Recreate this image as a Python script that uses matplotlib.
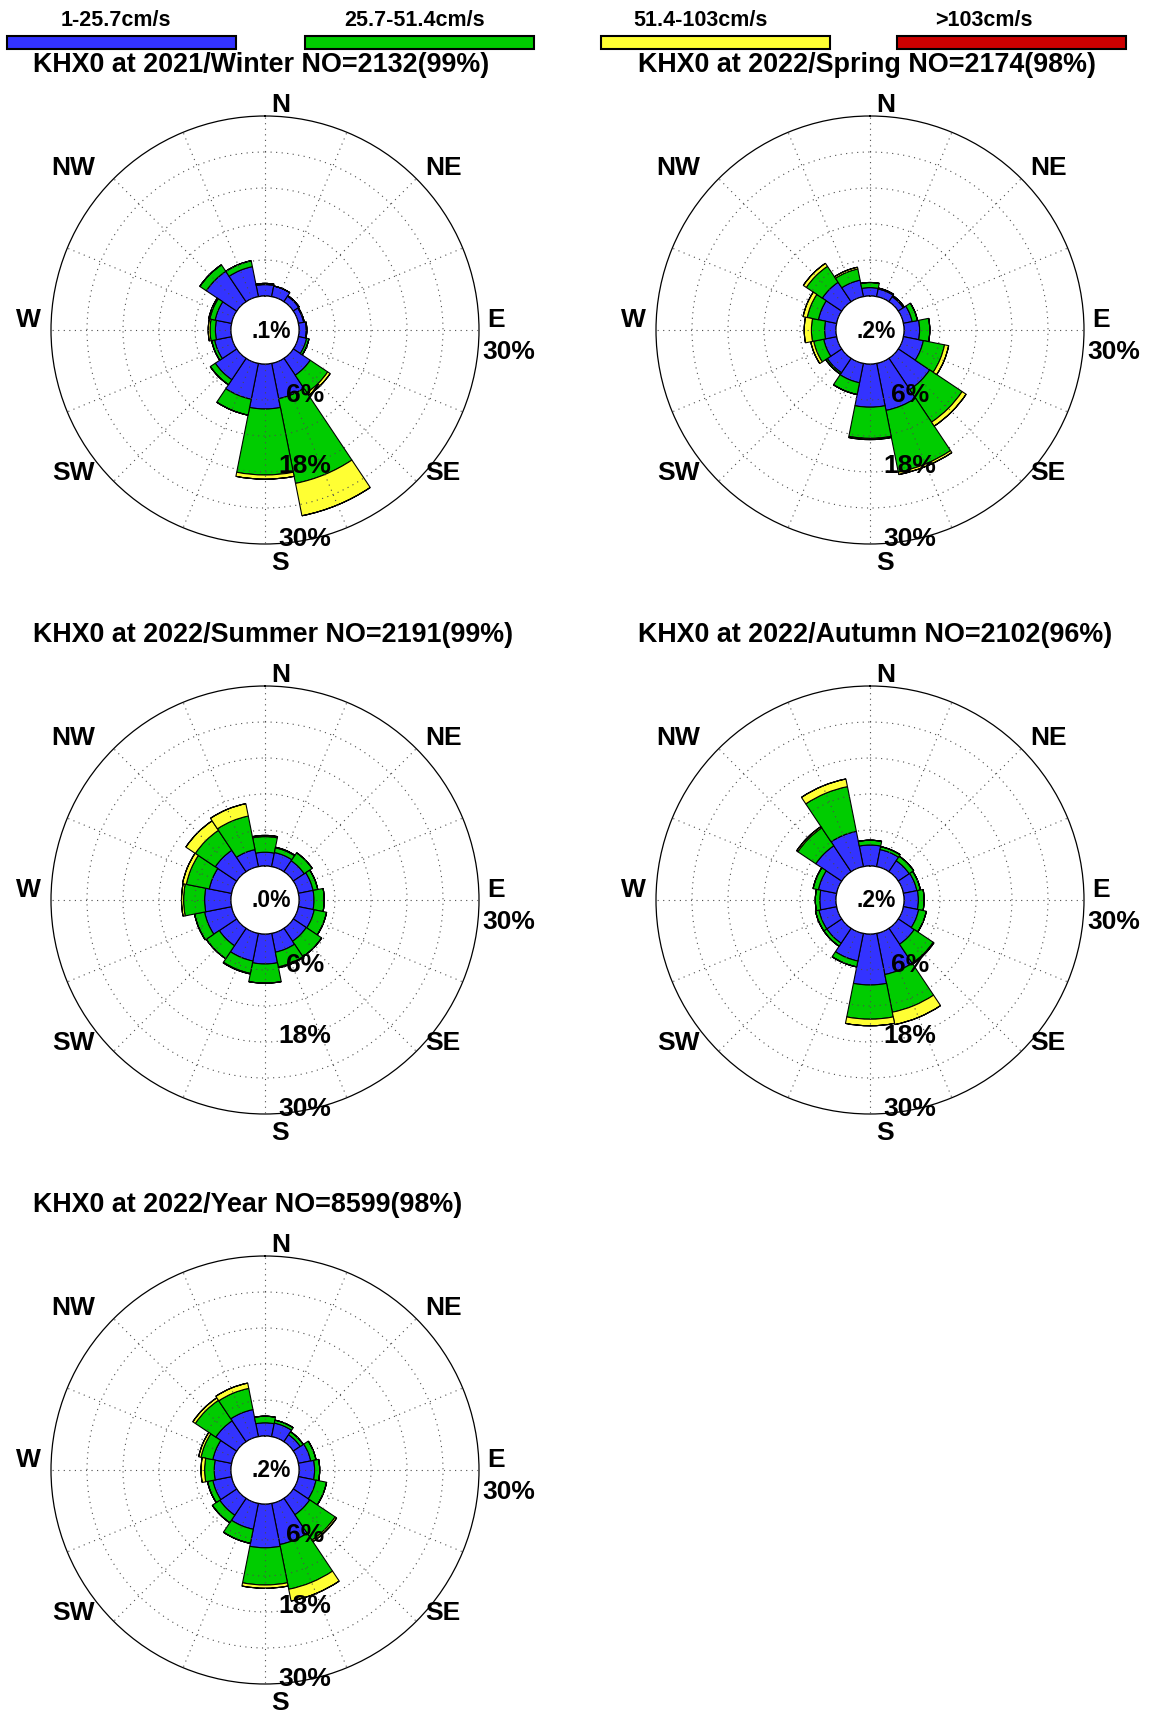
import numpy as np
import matplotlib.pyplot as plt
from matplotlib.patches import Rectangle

plt.rcParams['font.family'] = ['Liberation Sans', 'DejaVu Sans']

# 16 direction bins, clockwise from N
directions = ['N', 'NNE', 'NE', 'ENE', 'E', 'ESE', 'SE', 'SSE',
              'S', 'SSW', 'SW', 'WSW', 'W', 'WNW', 'NW', 'NNW']

speed_labels = ['1-25.7cm/s', '25.7-51.4cm/s', '51.4-103cm/s', '>103cm/s']
speed_colors = ['#3333FF', '#00CC00', '#FFFF33', '#CC0000']

# percentage of records per speed class and direction
winter_s1 = [1.9, 1.8, 1.1, 0.9, 1.2, 1.4, 3.4, 6.0, 7.5, 6.1, 4.3, 2.9, 2.6, 2.8, 6.1, 5.1]
winter_s2 = [0.2, 0.0, 0.1, 0.1, 0.1, 0.4, 3.5, 14.4, 11.0, 2.7, 1.0, 0.5, 0.9, 0.9, 1.3, 1.0]
winter_s3 = [0, 0, 0, 0, 0, 0, 0.5, 5.5, 0.7, 0, 0, 0, 0.3, 0.2, 0, 0]
winter_s4 = [0] * 16

spring_s1 = [1.4, 1.3, 1.0, 1.5, 2.6, 3.4, 6.3, 8.0, 7.2, 3.3, 2.9, 2.2, 1.9, 3.1, 3.9, 2.8]
spring_s2 = [0.85, 0.15, 0.2, 0.9, 1.7, 3.6, 6.5, 10.5, 5.2, 2.0, 0.3, 1.7, 2.2, 1.9, 3.2, 1.9]
spring_s3 = [0, 0, 0, 0, 0, 0.7, 0.8, 0.4, 0.2, 0, 0, 0.5, 1.2, 0.7, 0.6, 0.3]
spring_s4 = [0] * 16

summer_s1 = [2.3, 2.4, 2.2, 2.5, 2.5, 2.7, 2.6, 3.2, 5.0, 4.7, 3.5, 4.6, 4.4, 3.8, 4.3, 2.9]
summer_s2 = [2.6, 0.8, 1.6, 0.8, 1.7, 2.1, 3.1, 2.5, 3.2, 2.1, 2.6, 1.7, 3.5, 3.9, 4.0, 5.7]
summer_s3 = [0.2, 0.1, 0, 0, 0, 0, 0, 0.15, 0, 0.1, 0, 0, 0.35, 0.65, 1.9, 2.1]
summer_s4 = [0] * 16

autumn_s1 = [3.5, 2.9, 2.2, 2.3, 2.4, 2.6, 3.2, 7.0, 8.5, 4.7, 3.0, 3.0, 2.7, 3.1, 5.2, 6.0]
autumn_s2 = [0.8, 0.5, 0.9, 0.6, 0.95, 1.3, 3.8, 6.4, 5.7, 1.0, 0.6, 0.6, 0.75, 0.9, 3.6, 7.6]
autumn_s3 = [0, 0, 0, 0, 0, 0, 0.15, 2.1, 1.1, 0, 0, 0, 0, 0, 0.25, 1.3]
autumn_s4 = [0] * 16

year_s1 = [2.2, 2.3, 1.4, 2.1, 2.6, 3.0, 3.3, 7.0, 7.3, 4.4, 3.4, 3.2, 2.8, 3.2, 4.2, 4.6]
year_s2 = [1.1, 0.5, 0.6, 0.9, 0.85, 1.8, 5.1, 7.6, 6.2, 2.4, 1.5, 0.9, 1.6, 2.0, 4.1, 3.6]
year_s3 = [0, 0, 0, 0, 0, 0, 0.3, 2.0, 0.55, 0, 0, 0, 0.6, 0.4, 0.5, 0.9]
year_s4 = [0] * 16

titles = ['KHX0 at 2021/Winter NO=2132(99%)', 'KHX0 at 2022/Spring NO=2174(98%)',
          'KHX0 at 2022/Summer NO=2191(99%)', 'KHX0 at 2022/Autumn NO=2102(96%)',
          'KHX0 at 2022/Year NO=8599(98%)']
calm_labels = ['.1%', '.2%', '.0%', '.2%', '.2%']

W, H = 1151, 1715
R_PX = 214     # outer ring radius (px)
HOLE_PX = 34   # radius of the calm circle (px)
RMAX = 30

fig = plt.figure(figsize=(W / 100, H / 100), dpi=100)


def add_text(ax, dx, dy, s, size=19, **kw):
    # dx, dy in pixels from the rose centre (dy downwards)
    ax.text(0.5 + dx / (2 * R_PX), 0.5 - dy / (2 * R_PX), s, transform=ax.transAxes,
            fontsize=size, fontweight='bold', clip_on=False, **kw)


def add_rose(cx, cy, bins, title, calm):
    ax = fig.add_axes([(cx - R_PX) / W, 1 - (cy + R_PX) / H, 2 * R_PX / W, 2 * R_PX / H],
                      projection='polar')
    ax.set_theta_zero_location('N')
    ax.set_theta_direction(-1)
    ax.set_ylim(0, RMAX)
    ax.set_rorigin(-RMAX * HOLE_PX / (R_PX - HOLE_PX))

    theta = np.deg2rad(np.arange(len(directions)) * 22.5)
    bottom = np.zeros(len(directions))
    for vals, col in zip(bins, speed_colors):
        ax.bar(theta, vals, width=2 * np.pi / len(directions), bottom=bottom,
               color=col, edgecolor='k', linewidth=0.8)
        bottom = bottom + np.array(vals)

    ax.set_xticks(theta)
    ax.set_xticklabels([])
    ax.set_yticks([6, 12, 18, 24])
    ax.set_yticklabels([])
    ax.tick_params(length=0)
    ax.grid(True, color='0.3', linestyle=(0, (1, 4)), linewidth=0.8)
    ax.set_axisbelow(False)
    ax.spines['polar'].set_linewidth(0.9)

    # compass labels
    compass = [('N', 16, -226), ('NE', 179, -163), ('E', 231, -11), ('SE', 178, 142),
               ('S', 15, 232), ('SW', -192, 142), ('W', -237, -11), ('NW', -192, -163)]
    for s, dx, dy in compass:
        add_text(ax, dx, dy, s, ha='center', va='center')
    add_text(ax, 244, 21, '30%', ha='center', va='center')
    for s, dy in [('6%', 64), ('18%', 135), ('30%', 208)]:
        add_text(ax, 40, dy, s, ha='center', va='center', zorder=5)
    add_text(ax, 6, 0, calm, size=16.5, ha='center', va='center')
    add_text(ax, -232, -266, title, size=19.4, ha='left', va='center')
    return ax


centres = [(265, 331), (870, 331), (265, 901), (870, 901), (265, 1471)]
all_bins = [
    [winter_s1, winter_s2, winter_s3, winter_s4],
    [spring_s1, spring_s2, spring_s3, spring_s4],
    [summer_s1, summer_s2, summer_s3, summer_s4],
    [autumn_s1, autumn_s2, autumn_s3, autumn_s4],
    [year_s1, year_s2, year_s3, year_s4],
]
for (cx, cy), bins, t, c in zip(centres, all_bins, titles, calm_labels):
    add_rose(cx, cy, bins, t, c)

# speed legend along the top
bar_left = [7, 305, 601, 897]
label_x = [116, 415, 701, 984]
for i, (lab, col) in enumerate(zip(speed_labels, speed_colors)):
    fig.add_artist(Rectangle((bar_left[i] / W, 1 - 50 / H), 229 / W, 13 / H,
                             transform=fig.transFigure, facecolor=col,
                             edgecolor='k', linewidth=1.5))
    fig.text(label_x[i] / W, 1 - 20 / H, lab, ha='center', va='center',
             fontsize=15.5, fontweight='bold')

fig.savefig('out.png', dpi=100)
